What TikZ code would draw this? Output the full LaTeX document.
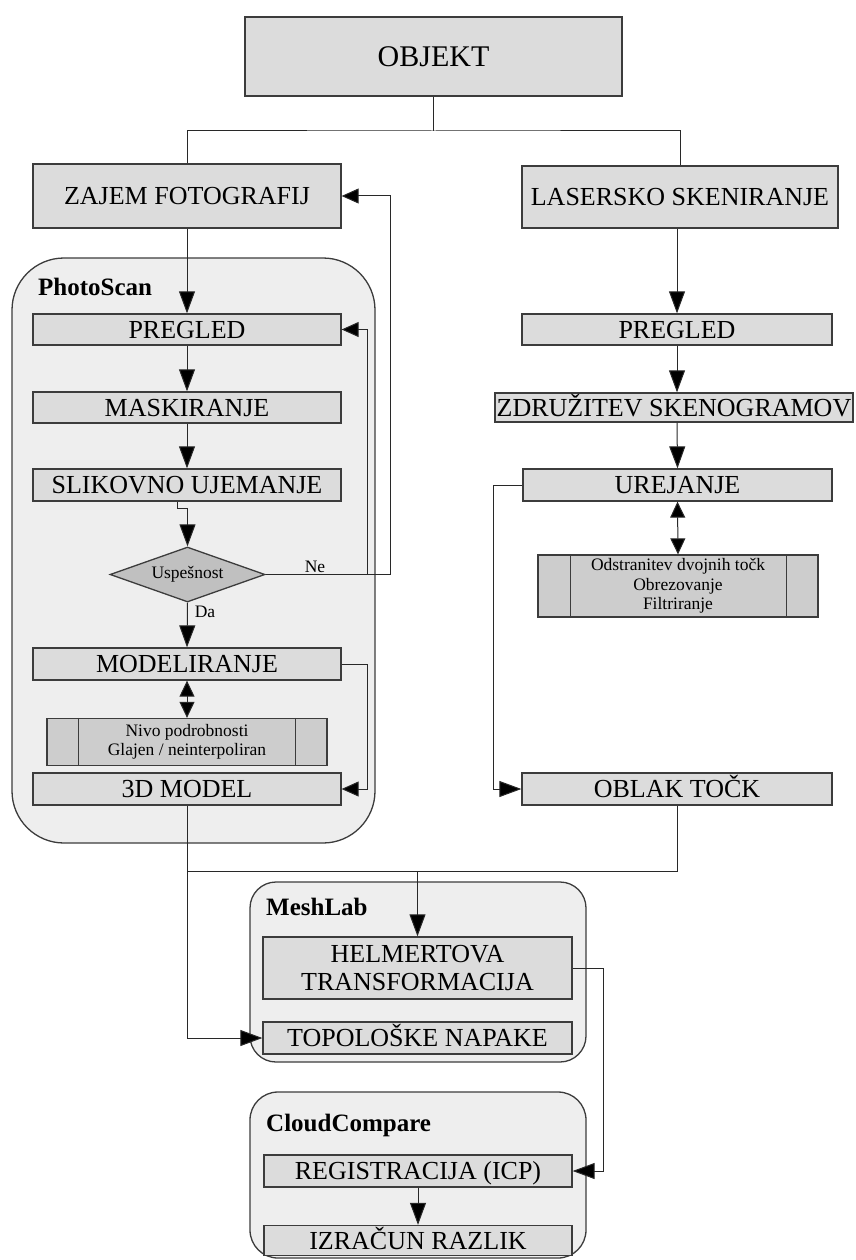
\documentclass[tikz,border=0pt]{standalone}
\usepackage{fontspec}
\setmainfont{Liberation Serif}
\usetikzlibrary{arrows.meta,shapes.geometric,calc}
\definecolor{boxfill}{RGB}{220,220,220}
\definecolor{contfill}{RGB}{238,238,238}
\definecolor{diafill}{RGB}{192,192,192}
\definecolor{procfill}{RGB}{205,205,205}
\definecolor{edgec}{RGB}{60,60,60}
\definecolor{linec}{RGB}{40,40,40}
\begin{document}
\begin{tikzpicture}[x=1pt,y=-1pt,
 basebox/.style={draw=edgec,fill=boxfill,line width=1.3pt,inner sep=0pt,minimum width=308pt,minimum height=31pt,font=\fontsize{26}{28}\selectfont},
 box/.style={basebox,text height=17pt,text depth=0pt},
 cont/.style={draw=edgec,fill=contfill,line width=1.3pt,inner sep=0pt},
 proc/.style={draw=edgec,fill=procfill,line width=1.3pt,inner sep=0pt,align=center,font=\fontsize{17.5}{19.5}\selectfont},
 lbl/.style={font=\bfseries\fontsize{25}{28}\selectfont,anchor=west,inner sep=0pt},
 conn/.style={draw=linec,line width=1pt},
 arr/.style={conn,-{Triangle[width=16pt,length=22pt,fill=black]}},
 sarr/.style={conn,-{Triangle[width=15pt,length=17pt,fill=black]}},
 darr/.style={conn,{Triangle[width=15pt,length=16pt,fill=black]}-{Triangle[width=15pt,length=16pt,fill=black]}},
 small/.style={font=\fontsize{17.5}{19}\selectfont,inner sep=0pt}
]
\useasboundingbox (0,0) rectangle (856,1260);
\fill[white] (0,0) rectangle (856,1260);

% containers
\node[cont,rounded corners=52pt,minimum width=363pt,minimum height=585pt] (ps) at (193.5,550.5) {};
\node[cont,rounded corners=26pt,minimum width=336pt,minimum height=180pt] (ml) at (418,972) {};
\node[cont,rounded corners=28pt,minimum width=336pt,minimum height=166pt] (cc) at (418,1175) {};
\node[lbl] (psl) at (38,287) {PhotoScan};
\node[lbl] (mll) at (266,907) {MeshLab};
\node[lbl] (ccl) at (266,1125) {CloudCompare};

% top
\node[box,minimum width=377pt,minimum height=79pt,font=\fontsize{30}{32}\selectfont,text height=20pt] (obj) at (433.5,56.5) {OBJEKT};
\node[box,minimum height=64pt] (zajem) at (187,196) {ZAJEM FOTOGRAFIJ};
\node[box,minimum width=316pt,minimum height=62pt] (laser) at (680,197) {LASERSKO SKENIRANJE};

% left column
\node[box] (pr1) at (187,329.5) {PREGLED};
\node[box] (mask) at (187,407.5) {MASKIRANJE};
\node[box,minimum height=32pt] (slik) at (187,485) {SLIKOVNO UJEMANJE};
\node[diamond,aspect=2.8,draw=edgec,fill=diafill,line width=1.3pt,minimum width=155pt,minimum height=55pt,inner sep=0pt,font=\fontsize{17.5}{19}\selectfont] (dia) at (187.5,574.5) {Uspešnost};
\node[box,minimum height=32pt] (model) at (187,664) {MODELIRANJE};
\node[proc,minimum width=280pt,minimum height=47pt] (nivo) at (187,742) {Nivo podrobnosti\\Glajen / neinterpoliran};
\node[box,minimum height=32pt] (m3d) at (187,789) {3D MODEL};
\node[small] (ne) at (315,567) {Ne};
\node[small] (da) at (205,612) {Da};

% right column
\node[box,minimum width=310pt] (pr2) at (677,329.5) {PREGLED};
\node[box,minimum width=358pt,minimum height=29pt] (zdr) at (674,407.5) {ZDRUŽITEV SKENOGRAMOV};
\node[box,minimum width=309pt,minimum height=32pt] (urej) at (677.5,485) {UREJANJE};
\node[proc,minimum width=280pt,minimum height=62pt] (odst) at (678,586) {Odstranitev dvojnih točk\\Obrezovanje\\Filtriranje};
\node[box,minimum width=310pt,minimum height=32pt] (oblak) at (677,789) {OBLAK TOČK};

% bottom
\node[basebox,minimum width=309pt,minimum height=62pt,align=center] (helm) at (417.5,968) {HELMERTOVA\\TRANSFORMACIJA};
\node[box,minimum width=309pt,minimum height=32pt] (topo) at (417.5,1038) {TOPOLOŠKE NAPAKE};
\node[box,minimum width=308pt,minimum height=32pt] (reg) at (418,1171) {REGISTRACIJA (ICP)};
\node[box,minimum width=308pt,minimum height=30pt] (izr) at (418,1240.5) {IZRAČUN RAZLIK};

% inner lines of process boxes
\draw[draw=edgec,line width=1.3pt] ($(nivo.north west)+(32,0)$) -- ($(nivo.south west)+(32,0)$);
\draw[draw=edgec,line width=1.3pt] ($(nivo.north east)+(-32,0)$) -- ($(nivo.south east)+(-32,0)$);
\draw[draw=edgec,line width=1.3pt] ($(odst.north west)+(33,0)$) -- ($(odst.south west)+(33,0)$);
\draw[draw=edgec,line width=1.3pt] ($(odst.north east)+(-32,0)$) -- ($(odst.south east)+(-32,0)$);

% coordinates
\coordinate (t) at (433.5,131);
\coordinate (ne1) at (367,574.5);
\coordinate (ne2) at (390,574.5);
\coordinate (mr) at (367,664);
\coordinate (ul) at (493,485);
\coordinate (j) at (417.5,871);
\coordinate (hr) at (603,968);

% connectors
\draw[conn] (obj.south) -- (t);
\draw[conn] (zajem.north) |- (t) -| (laser.north);
\draw[arr] (zajem.south) -- (pr1.north);
\draw[arr] (pr1.south) -- (mask.north);
\draw[arr] (mask.south) -- (slik.north);
\draw[arr] ($(slik.south)+(-10,0)$) -- ++(0,7) -| (dia.north);
\draw[conn] (dia.east) -- (ne2);
\draw[sarr] (ne2) |- (zajem.east);
\draw[sarr] (ne1) |- (pr1.east);
\draw[arr] (dia.south) -- (model.north);
\draw[darr] (model.south) -- (nivo.north);
\draw[sarr] (model.east) -- (mr) |- (m3d.east);
\draw[arr] (m3d.south) |- (topo.west);

\draw[arr] (laser.south -| pr2.north) -- (pr2.north);
\draw[arr] (pr2.south) -- (pr2.south |- zdr.north);
\draw[arr] (pr2.south |- zdr.south) -- (urej.north);
\draw[darr] (urej.south) -- (odst.north);
\draw[arr] (urej.west) -- (ul) |- (oblak.west);
\draw[conn] (oblak.south) |- (m3d.south |- j);
\draw[arr] (j) -- (helm.north);
\draw[arr] (helm.east) -- (hr) |- (reg.east);
\draw[arr] (reg.south) -- (izr.north);
\end{tikzpicture}
\end{document}
